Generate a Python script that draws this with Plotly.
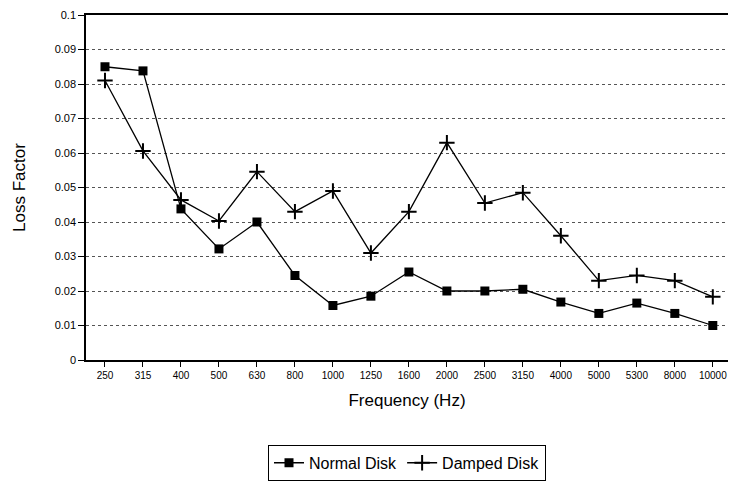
import plotly.graph_objects as go

frequencies = ["250", "315", "400", "500", "630", "800", "1000", "1250", "1600",
               "2000", "2500", "3150", "4000", "5000", "5300", "8000", "10000"]
normal_disk = [0.085, 0.0838, 0.0438, 0.0322, 0.040, 0.0245, 0.0158, 0.0185, 0.0255,
               0.020, 0.020, 0.0205, 0.0168, 0.0135, 0.0165, 0.0135, 0.010]
damped_disk = [0.081, 0.0606, 0.0464, 0.0403, 0.0546, 0.043, 0.049, 0.031, 0.043,
               0.063, 0.0455, 0.0485, 0.036, 0.023, 0.0245, 0.023, 0.0183]
y_ticks = [0, 0.01, 0.02, 0.03, 0.04, 0.05, 0.06, 0.07, 0.08, 0.09, 0.1]
y_tick_labels = ["0", "0.01", "0.02", "0.03", "0.04", "0.05", "0.06", "0.07", "0.08", "0.09", "0.1"]

xi = list(range(len(frequencies)))

fig = go.Figure()
fig.add_trace(go.Scatter(
    x=xi, y=normal_disk, name="Normal Disk", mode="lines+markers",
    line=dict(color="black", width=1.3),
    marker=dict(symbol="square", size=9, color="black"),
))
fig.add_trace(go.Scatter(
    x=xi, y=damped_disk, name="Damped Disk", mode="lines+markers",
    line=dict(color="black", width=1.3),
    marker=dict(symbol="cross-thin", size=11, color="black",
                line=dict(color="black", width=2)),
))

# the page body adds an 8px margin on every side, so the figure is sized to fit inside it
fig.update_layout(
    width=720, height=479,
    margin=dict(l=78, r=0, t=7, b=127),
    paper_bgcolor="white", plot_bgcolor="white",
    font=dict(family="Liberation Sans, Arial, sans-serif", color="black"),
    showlegend=True,
    legend=dict(
        orientation="h", x=0.5, xanchor="center", y=-0.246, yanchor="top",
        bordercolor="black", borderwidth=1, font=dict(size=16),
        itemwidth=30, tracegroupgap=0,
    ),
    xaxis=dict(
        range=[-0.5, 16.4], automargin=False,
        tickmode="array", tickvals=xi, ticktext=frequencies,
        tickfont=dict(size=10), ticks="outside", ticklen=5, tickcolor="black",
        showline=True, linecolor="black", linewidth=1.5, mirror=True,
        showgrid=False, zeroline=False,
        title=dict(text="Frequency (Hz)", font=dict(size=17), standoff=14),
    ),
    yaxis=dict(
        range=[0, 0.1], automargin=False,
        tickmode="array", tickvals=y_ticks, ticktext=y_tick_labels,
        tickfont=dict(size=11), ticks="outside", ticklen=6, tickcolor="black",
        showline=True, linecolor="black", linewidth=1.5, mirror=True,
        showgrid=True, gridcolor="#555555", griddash="dot", gridwidth=1,
        zeroline=False,
        title=dict(text="Loss Factor", font=dict(size=17), standoff=25),
    ),
)

fig.write_html("out.html")
